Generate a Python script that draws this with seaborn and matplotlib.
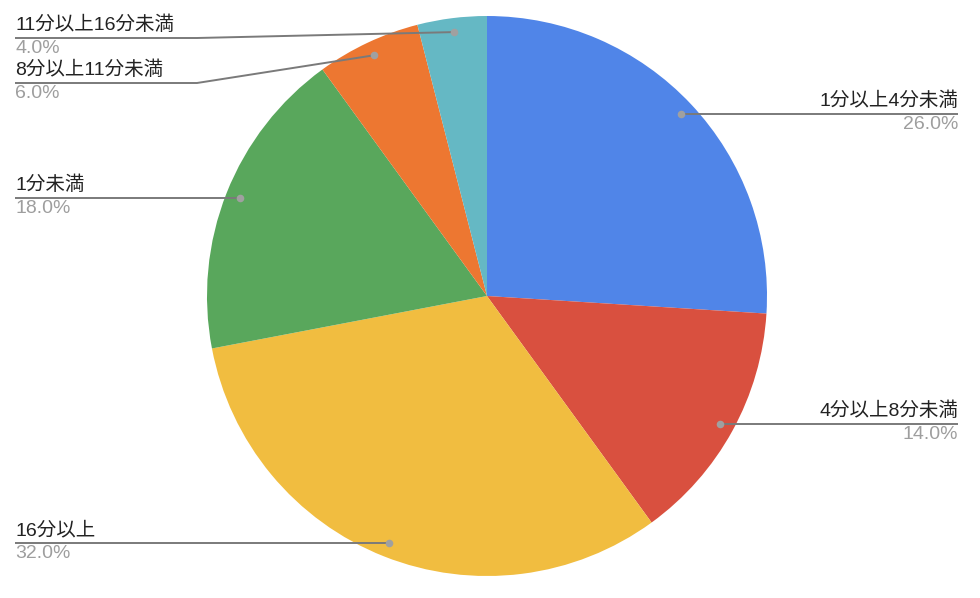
import matplotlib
matplotlib.use("Agg")
import matplotlib.pyplot as plt
import seaborn as sns
import pandas as pd
import numpy as np

# data
categories = ['1分以上4分未満', '4分以上8分未満', '16分以上', '1分未満', '8分以上11分未満', '11分以上16分未満']
shares = [26.0, 14.0, 32.0, 18.0, 6.0, 4.0]
colors = ['#5085E8', '#D9503F', '#F1BD40', '#59A75C', '#ED7731', '#65B8C4']

# layout of the labels (pixel rows of the leader lines; None = same row as the dot)
label_rows = [None, None, None, None, 83, 38]

df = pd.DataFrame({'category': categories, 'share': shares, 'color': colors})

sns.set_theme(style='white')
plt.rcParams['font.family'] = ['Liberation Sans', 'Noto Sans CJK JP', 'DejaVu Sans']

W, H = 980, 598
fig = plt.figure(figsize=(W / 100, H / 100), dpi=100)
ax = fig.add_axes([0, 0, 1, 1])
ax.set_xlim(0, W)
ax.set_ylim(H, 0)
ax.axis('off')

cx, cy, R = 487, 296, 280
ax.pie(df['share'], colors=df['color'], center=(cx, cy), radius=R,
       startangle=-90, counterclock=True, wedgeprops=dict(linewidth=0))
ax.set_xlim(0, W)
ax.set_ylim(H, 0)
ax.set_aspect('auto')

total = df['share'].sum()
cum = df['share'].cumsum() - df['share'] / 2
line_col = '#7a7a7a'
for i, row in df.iterrows():
    theta = np.deg2rad(-90 + 360 * cum[i] / total)
    px = cx + 0.95 * R * np.cos(theta)
    py = cy + 0.95 * R * np.sin(theta)
    right = np.cos(theta) > 0
    ly = py if label_rows[i] is None else label_rows[i]
    if right:
        xs, ys = [px, 958], [py, py]
        tx, ha = 958, 'right'
    else:
        if label_rows[i] is None:
            xs, ys = [15, px], [ly, ly]
        else:
            xs, ys = [15, 197, px], [ly, ly, py]
        tx, ha = 15, 'left'
    ax.plot(xs, ys, color=line_col, lw=1.4, solid_capstyle='butt', zorder=3)
    ax.scatter([px], [py], s=30, color='#a0a0a0', zorder=4, linewidths=0)
    ax.text(tx, ly - 4, row['category'], ha=ha, va='bottom', fontsize=14, color='#222222')
    ax.text(tx, ly + 2, f"{row['share']:.1f}%", ha=ha, va='top', fontsize=14, color='#9e9e9e')

fig.savefig('out.png', dpi=100)
